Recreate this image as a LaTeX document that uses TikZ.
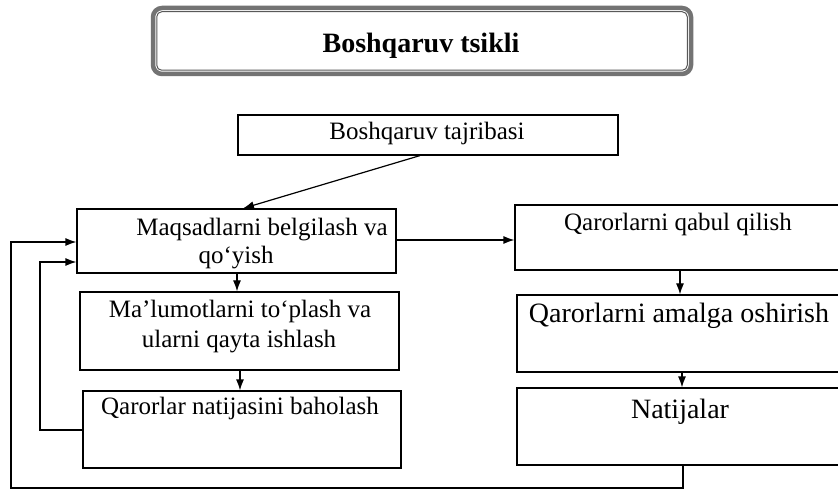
\documentclass[tikz,border=0pt]{standalone}
\usepackage{fontspec}
\setmainfont{Liberation Serif}
\usetikzlibrary{arrows.meta,calc}
\begin{document}
\begin{tikzpicture}[x=1pt,y=-1pt,
  box/.style={draw, line width=1.2pt, inner sep=0pt, rectangle},
  arr/.style={-{Latex[length=11pt,width=8pt]}, line width=1.2pt},
  txt/.style={anchor=base, inner sep=0pt, font=\fontsize{25}{30}\selectfont},
  bigtxt/.style={anchor=base, inner sep=0pt, font=\fontsize{28}{33}\selectfont},
  ttltxt/.style={anchor=base, inner sep=0pt, font=\fontsize{28}{33}\selectfont\bfseries},
  frame/.style={draw=black!55, line width=4.5pt, rounded corners=9pt, inner sep=0pt, rectangle},
  innerframe/.style={draw=black!65, line width=1pt, rounded corners=5pt}
]
\clip (0,0) rectangle (838,494);
\fill[white] (0,0) rectangle (838,494);

% title
\node[frame, minimum width=538pt, minimum height=66pt] (title) at (422,41) {};
\draw[innerframe] ($(title.south west)+(6,-6)$) rectangle ($(title.north east)+(-6,6)$);
\node[ttltxt] (ttl) at (421,53) {Boshqaruv tsikli};

% boxes
\node[box, minimum width=380pt, minimum height=40pt] (taj) at (428,135) {};
\node[box, minimum width=319pt, minimum height=64pt] (maq) at (236.5,241) {};
\node[box, minimum width=319pt, minimum height=78pt] (mal) at (239.5,331) {};
\node[box, minimum width=318pt, minimum height=77pt] (qnat) at (242,429.5) {};
\node[box, minimum width=327pt, minimum height=65pt] (qab) at (678.5,237.5) {};
\node[box, minimum width=325pt, minimum height=77pt] (ama) at (679.5,333.5) {};
\node[box, minimum width=325pt, minimum height=77pt] (nat) at (679.5,426.5) {};

% texts
\node[txt] (ttaj) at (427,140) {Boshqaruv tajribasi};
\node[txt] (tmaqa) at (262,236) {Maqsadlarni belgilash va};
\node[txt] (tmaqb) at (236,264) {qo‘yish};
\node[txt] (tmala) at (240,318) {Ma’lumotlarni to‘plash va};
\node[txt] (tmalb) at (239,348) {ularni qayta ishlash};
\node[txt] (tqnat) at (240,414) {Qarorlar natijasini baholash};
\node[txt] (tqab) at (678,231) {Qarorlarni qabul qilish};
\node[bigtxt] (tama) at (679,323) {Qarorlarni amalga oshirish};
\node[bigtxt] (tnat) at (680,418) {Natijalar};

% helper coordinates
\coordinate (ya) at (0,240);
\coordinate (yb) at (0,242);
\coordinate (yc) at (0,262);
\coordinate (yd) at (0,430);
\coordinate (cb) at (11,488);
\coordinate (ci) at (40,430);
\coordinate (xa) at (237,0);
\coordinate (xb) at (240,0);
\coordinate (xc) at (680,0);
\coordinate (xd) at (682,0);
\coordinate (xe) at (683,0);
\coordinate (xf) at (420,0);
\coordinate (xg) at (243,0);

% connectors
\draw[arr] (taj.south -| xf) -- (maq.north -| xg);
\draw[arr] (maq.east |- ya) -- (qab.west |- ya);
\draw[arr] (maq.south -| xa) -- (mal.north -| xa);
\draw[arr] (mal.south -| xb) -- (qnat.north -| xb);
\draw[arr] (qab.south -| xc) -- (ama.north -| xc);
\draw[arr] (ama.south -| xd) -- (nat.north -| xd);
\draw[arr] (nat.south -| xe) -- (xe |- cb) -- (cb) -- (cb |- yb) -- (maq.west |- yb);
\draw[arr] (qnat.west |- yd) -- (ci) -- (ci |- yc) -- (maq.west |- yc);
\end{tikzpicture}
\end{document}
